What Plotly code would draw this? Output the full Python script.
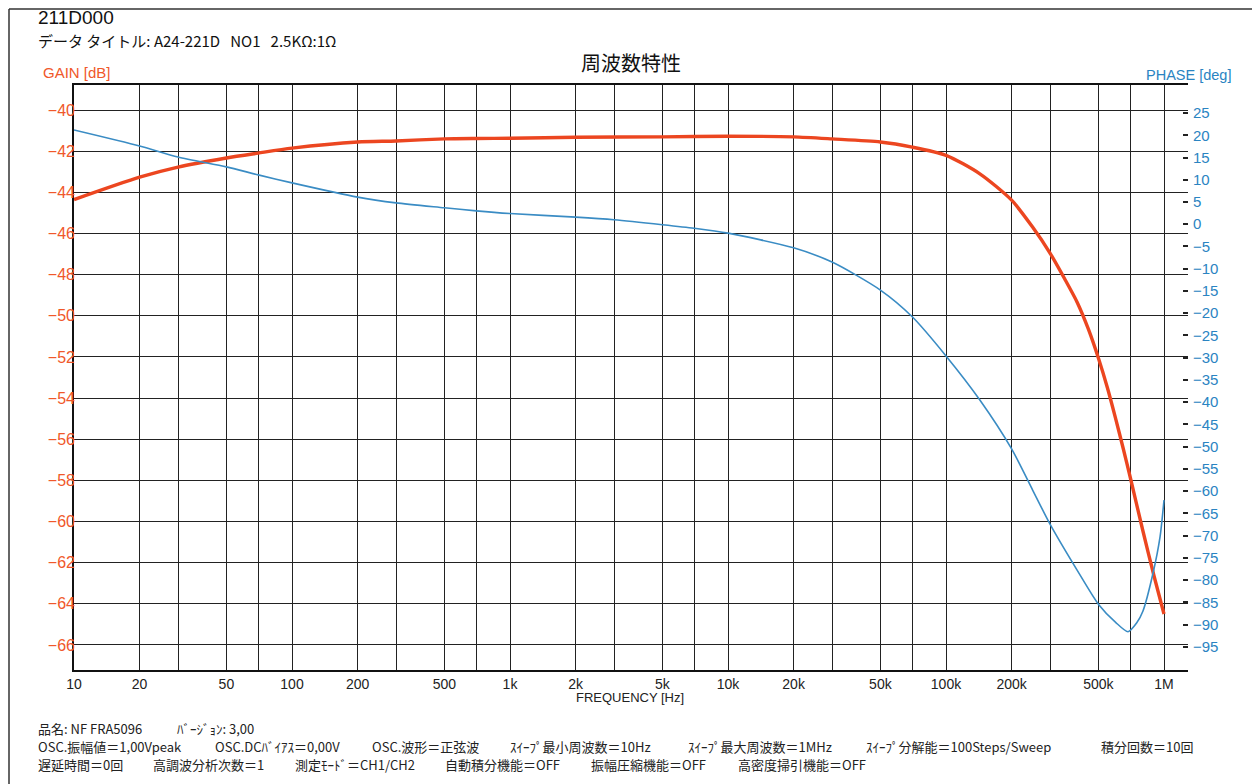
import plotly.graph_objects as go

# ---------------- data ----------------
freq_gain = [10, 20, 30, 50, 70, 100, 200, 300, 500, 700, 1000, 2000, 5000, 10000,
             20000, 30000, 50000, 70000, 100000, 143000, 200000, 250000, 300000,
             350000, 400000, 450000, 500000, 550000, 600000, 650000, 700000, 800000,
             900000, 1000000]
gain_db = [-44.35, -43.26, -42.77, -42.33, -42.09, -41.85, -41.55, -41.50, -41.40,
           -41.38, -41.37, -41.32, -41.30, -41.27, -41.30, -41.40, -41.55, -41.80,
           -42.20, -43.10, -44.38, -45.70, -46.95, -48.20, -49.35, -50.65, -52.05,
           -53.50, -55.00, -56.45, -57.85, -60.45, -62.65, -64.50]

freq_phase = [10, 20, 30, 50, 70, 100, 200, 300, 500, 700, 1000, 2000, 3000, 5000,
              7000, 10000, 20000, 30000, 50000, 70000, 100000, 143000, 200000,
              250000, 300000, 400000, 500000, 600000, 684000, 750000, 800000,
              891000, 959000, 1000000]
phase_deg = [21.2, 17.6, 15.1, 12.9, 11.1, 9.3, 6.1, 4.8, 3.7, 3.0, 2.4, 1.6, 1.0,
             -0.1, -0.9, -2.0, -5.3, -8.5, -14.8, -20.8, -29.6, -39.5, -50.5,
             -59.8, -67.4, -77.8, -85.4, -89.5, -91.6, -89.6, -87.0, -78.4, -70.3,
             -62.0]

x_grid_vals = [10, 20, 30, 50, 70, 100, 200, 300, 500, 700, 1000, 2000, 3000, 5000,
               7000, 10000, 20000, 30000, 50000, 70000, 100000, 200000, 300000,
               500000, 700000, 1000000]
x_grid_text = ["10", "20", "", "50", "", "100", "200", "", "500", "", "1k", "2k", "",
               "5k", "", "10k", "20k", "", "50k", "", "100k", "200k", "", "500k", "",
               "1M"]
gain_ticks = [-40, -42, -44, -46, -48, -50, -52, -54, -56, -58, -60, -62, -64, -66]
phase_ticks = [25, 20, 15, 10, 5, 0, -5, -10, -15, -20, -25, -30, -35, -40, -45,
               -50, -55, -60, -65, -70, -75, -80, -85, -90, -95]

header_code = "211D000"
header_title = "データ タイトル: A24-221D   NO1   2.5KΩ:1Ω"
chart_title = "周波数特性"
footer_items = [
    ["品名: NF FRA5096", "ﾊﾞｰｼﾞｮﾝ: 3,00"],
    ["OSC.振幅値＝1,00Vpeak", "OSC.DCﾊﾞｲｱｽ＝0,00V", "OSC.波形＝正弦波",
     "ｽｲｰﾌﾟ最小周波数＝10Hz", "ｽｲｰﾌﾟ最大周波数＝1MHz",
     "ｽｲｰﾌﾟ分解能＝100Steps/Sweep", "積分回数＝10回"],
    ["遅延時間＝0回", "高調波分析次数＝1", "測定ﾓｰﾄﾞ＝CH1/CH2", "自動積分機能＝OFF",
     "振幅圧縮機能＝OFF", "高密度掃引機能＝OFF"],
]

# ---------------- layout / style ----------------
OFF = 8                      # page body margin of the browser
W, H = 1260 - 2 * OFF, 784 - OFF
L, R, T, B = 74 - OFF, 1188 - OFF, 85 - OFF, 670 - OFF   # plot frame (figure px)
footer_x = [
    [37, 176],
    [37, 214, 371, 509, 687, 865, 1100],
    [37, 152, 294, 444, 590, 737],
]
footer_y = [728, 746, 764]
GAIN_C = "#ec4620"
GAIN_LBL = "#f0582a"
PHASE_C = "#3a8cc4"
PHASE_LBL = "#2a84c2"
GRID_C = "#222222"
FONT = "Liberation Sans Narrow, Liberation Sans, Arial, Noto Sans CJK JP"
JFONT = "Noto Sans CJK JP, Liberation Sans"

fig = go.Figure()
fig.add_trace(go.Scatter(x=freq_phase, y=phase_deg, yaxis="y2", mode="lines",
                         line=dict(color=PHASE_C, width=1.6, shape="spline", smoothing=0.7),
                         name="PHASE", showlegend=False, hoverinfo="x+y"))
fig.add_trace(go.Scatter(x=freq_gain, y=gain_db, mode="lines",
                         line=dict(color=GAIN_C, width=3.4, shape="spline", smoothing=0.7),
                         name="GAIN", showlegend=False, hoverinfo="x+y"))


def ax(px):   # page px -> plot-area paper x
    return (px - OFF - L) / (R - L)


def ay(py):   # page px -> plot-area paper y
    return (B - (py - OFF)) / (B - T)


annotations = [
    dict(text=header_code, x=ax(36), y=ay(18), xanchor="left",
         font=dict(family=FONT, size=19, color="#111")),
    dict(text=header_title, x=ax(36), y=ay(40), xanchor="left",
         font=dict(family=JFONT, size=15, color="#111")),
    dict(text=chart_title, x=ax(631), y=ay(63), xanchor="center",
         font=dict(family=JFONT, size=20, color="#111")),
    dict(text="GAIN [dB]", x=ax(41), y=ay(72), xanchor="left",
         font=dict(family=FONT, size=15, color=GAIN_LBL)),
    dict(text="PHASE [deg]", x=ax(1233), y=ay(75), xanchor="right",
         font=dict(family=FONT, size=14.5, color=PHASE_LBL)),
    dict(text="FREQUENCY [Hz]", x=ax(630), y=ay(697), xanchor="center",
         font=dict(family=FONT, size=13, color="#222")),
]
for items, xs, yy in zip(footer_items, footer_x, footer_y):
    for txt, xx in zip(items, xs):
        annotations.append(dict(text=txt, x=ax(xx), y=ay(yy), xanchor="left",
                                borderpad=0,
                                font=dict(family=JFONT, size=13, color="#222")))
for a in annotations:
    a.update(xref="paper", yref="paper", showarrow=False, yanchor="middle")

fig.update_layout(
    width=W, height=H,
    margin=dict(l=L, r=W - R, t=T, b=H - B, pad=0),
    paper_bgcolor="white", plot_bgcolor="white",
    annotations=annotations,
    xaxis=dict(type="log", range=[1, 1 + (R - L) / 218.0],
               tickvals=x_grid_vals, ticktext=x_grid_text, ticks="",
               showgrid=True, gridcolor=GRID_C, gridwidth=1.4,
               showline=True, linecolor="#111", linewidth=1.6, mirror=True,
               tickfont=dict(family=FONT, size=14, color="#222"), zeroline=False),
    yaxis=dict(range=[-67.22, -38.78], tickvals=gain_ticks, ticks="",
               ticklabelstandoff=-6,
               showgrid=True, gridcolor=GRID_C, gridwidth=1.4, zeroline=False,
               showline=True, linecolor="#111", linewidth=1.6,
               tickfont=dict(family=FONT, size=16, color=GAIN_LBL)),
    yaxis2=dict(range=[-100.2, 31.3], tickvals=phase_ticks, overlaying="y", side="right",
                ticks="inside", ticklen=5, tickwidth=1.5, tickcolor="#222",
                ticklabelstandoff=4,
                showgrid=False, zeroline=False, showline=False,
                tickfont=dict(family=FONT, size=15, color=PHASE_LBL)),
    shapes=[
        dict(type="line", xref="paper", yref="paper", x0=ax(9), x1=ax(9),
             y0=ay(9), y1=ay(784), line=dict(color="#333", width=1.5)),
        dict(type="line", xref="paper", yref="paper", x0=ax(9), x1=ax(1260),
             y0=ay(9), y1=ay(9), line=dict(color="#333", width=1.5)),
    ],
)

fig.write_html("out.html")
